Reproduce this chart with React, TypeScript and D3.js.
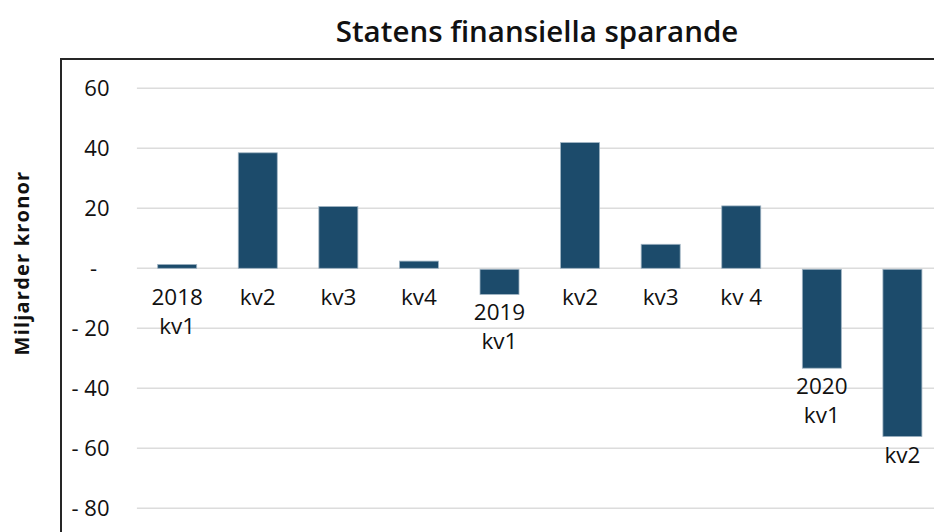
import React from "react";
import * as d3 from "d3";

const categories = ["2018 kv1", "kv2", "kv3", "kv4", "2019 kv1", "kv2 ", "kv3 ", "kv 4", "2020 kv1", "kv2  "];
const labelLines: string[][] = [
  ["2018", "kv1"], ["kv2"], ["kv3"], ["kv4"], ["2019", "kv1"],
  ["kv2"], ["kv3"], ["kv 4"], ["2020", "kv1"], ["kv2"],
];
const values = [1.3, 38.5, 20.6, 2.4, -8.7, 41.9, 8.0, 20.8, -33.3, -56.1];
const yTicks = [60, 40, 20, 0, -20, -40, -60, -80];

const W = 934;
const H = 532;
const FONT = "'Open Sans', 'Noto Sans', sans-serif";

export default function App() {
  const x = d3.scaleBand<string>().domain(categories).range([136.9, 942.7]).paddingInner(0.516).paddingOuter(0.258);
  const y = d3.scaleLinear().domain([-80, 60]).range([508.3, 88.3]);
  const fmt = (v: number) => (v === 0 ? "-" : v < 0 ? `- ${-v}` : `${v}`);

  return (
    <svg width={W} height={H} style={{ position: "absolute", left: 0, top: 0, display: "block", background: "#fff" }}>
      <text x={537} y={30} textAnchor="middle" dominantBaseline="central" fontFamily={FONT} fontSize={29.5} fontWeight={600} fill="#111">
        Statens finansiella sparande
      </text>
      <line x1={61} x2={W} y1={59} y2={59} stroke="#262626" strokeWidth={2} />
      <line x1={61} x2={61} y1={58} y2={H} stroke="#262626" strokeWidth={2} />
      <text transform={`translate(21,263) rotate(-90)`} textAnchor="middle" dominantBaseline="central" fontFamily={FONT} fontSize={20} fontWeight={700} letterSpacing={1.2} fill="#111">
        Miljarder kronor
      </text>
      {yTicks.map((t) => (
        <g key={t}>
          <line x1={136.9} x2={W} y1={y(t)} y2={y(t)} stroke="#dcdcdc" strokeWidth={1.5} />
          <text x={t === 0 ? 97 : 109.5} y={y(t)} dy="0.35em" textAnchor="end" fontFamily={FONT} fontSize={22} fill="#111">
            {fmt(t)}
          </text>
        </g>
      ))}
      {values.map((v, i) => {
        const c = categories[i];
        const bx = x(c) as number;
        const bw = x.bandwidth();
        const y0 = y(0);
        const top = v >= 0 ? y(v) : y0 + 1;
        const h = v >= 0 ? y0 - y(v) : y(v) - y0 - 1;
        return <rect key={i} x={bx} y={top} width={bw} height={h} fill="#1c4b6b" stroke="#9fb3c2" strokeWidth={0.8} />;
      })}
      {values.map((v, i) => {
        const c = categories[i];
        const cx = (x(c) as number) + x.bandwidth() / 2;
        const base = v >= 0 ? y(0) + 37 : y(v) + 26;
        return (
          <text key={i} textAnchor="middle" fontFamily={FONT} fontSize={22.5} fill="#111">
            {labelLines[i].map((ln, j) => (
              <tspan key={j} x={cx} y={base + j * 29}>{ln}</tspan>
            ))}
          </text>
        );
      })}
    </svg>
  );
}
